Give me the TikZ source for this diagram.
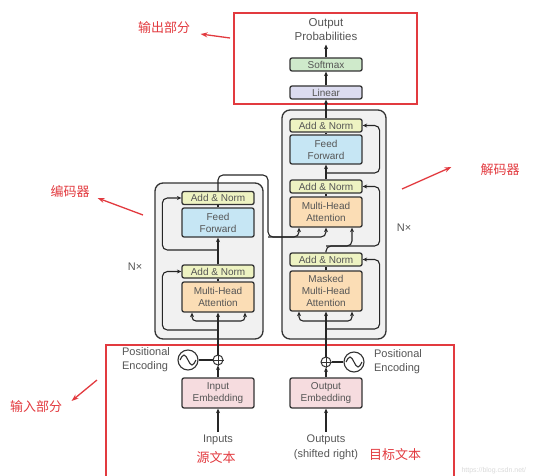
\documentclass[tikz,border=0pt]{standalone}
\usepackage{fontspec}
\setmainfont{Liberation Sans}
\newfontfamily\cjk{Noto Sans CJK SC}
\usetikzlibrary{arrows.meta}

\definecolor{normc}{HTML}{EEF3C2}
\definecolor{ffc}{HTML}{C6E6F4}
\definecolor{attc}{HTML}{FBDDB5}
\definecolor{embc}{HTML}{F6DCDF}
\definecolor{smc}{HTML}{CFEACB}
\definecolor{linc}{HTML}{DCDCF0}
\definecolor{blockc}{HTML}{F1F1F1}
\definecolor{redc}{HTML}{E23A3F}
\definecolor{txtc}{HTML}{555555}

\tikzset{
  layer/.style={draw=black!80, line width=1.3pt, rounded corners=2pt, minimum width=72pt,
    inner sep=0pt, align=center, text=txtc, font=\fontsize{10}{12}\selectfont},
  addnorm/.style={layer, fill=normc, minimum height=13pt},
  feedfw/.style={layer, fill=ffc, minimum height=29pt},
  attn/.style={layer, fill=attc, minimum height=30pt},
  embed/.style={layer, fill=embc, minimum height=30pt},
  block/.style={draw=black!80, fill=blockc, line width=1.3pt, rounded corners=8pt},
  flow/.style={-{Stealth[length=4.5pt,width=4pt]}, line width=1.1pt, black!85},
  wire/.style={line width=1.1pt, black!85},
  graytext/.style={text=txtc, font=\fontsize{11}{14}\selectfont, align=center},
  note/.style={text=redc, font=\cjk\fontsize{13}{15}\selectfont},
  pointer/.style={-{Stealth[length=7pt,width=5pt]}, redc, line width=1.3pt},
  redbox/.style={draw=redc, line width=1.1pt},
  plus/.style={circle, draw=black!80, line width=1pt, minimum size=10pt, inner sep=0pt},
  wave/.style={circle, draw=black!80, line width=1.1pt, minimum size=20pt, inner sep=0pt}
}

\begin{document}
\begin{tikzpicture}[x=1pt, y=-1pt]
  \useasboundingbox (0,0) rectangle (546,476);

  % red parts
  \node[redbox, minimum width=183pt, minimum height=91pt] (outpart) at (325.5,58.5) {};
  \draw[redbox] (106,476) |- (454,345) -- (454,476);

  % gray stacks
  \node[block, minimum width=108pt, minimum height=156pt] (enc) at (209,261) {};
  \node[block, minimum width=104pt, minimum height=229pt] (dec) at (334,224.5) {};

  % encoder
  \node[addnorm] (ean1) at (218,198) {Add \& Norm};
  \node[feedfw] (eff) at (218,222.5) {Feed\\Forward};
  \node[addnorm] (ean2) at (218,271.5) {Add \& Norm};
  \node[attn] (emha) at (218,297) {Multi-Head\\Attention};
  \node[embed] (ein) at (218,393) {Input\\Embedding};
  \node[plus] (eplus) at (218,360) {};
  \node[wave] (ewave) at (188,360) {};
  \node[graytext, align=left] (epos) at (146,360) {Positional\\Encoding};
  \node[graytext] (inputs) at (218,440) {Inputs};
  \node[graytext] (encn) at (135,267) {N×};

  % decoder
  \node[addnorm] (dan1) at (326,125.5) {Add \& Norm};
  \node[feedfw] (dff) at (326,149.5) {Feed\\Forward};
  \node[addnorm] (dan2) at (326,186.5) {Add \& Norm};
  \node[attn] (dmha) at (326,212) {Multi-Head\\Attention};
  \node[addnorm] (dan3) at (326,259.5) {Add \& Norm};
  \node[attn, minimum height=40pt] (dmmha) at (326,291) {Masked\\Multi-Head\\Attention};
  \node[embed] (dout) at (326,393) {Output\\Embedding};
  \node[plus] (dplus) at (326,362) {};
  \node[wave] (dwave) at (354,362) {};
  \node[graytext, align=left] (dpos) at (398,361.5) {Positional\\Encoding};
  \node[graytext, font=\fontsize{11}{14.5}\selectfont] (outputs) at (326,447.5) {Outputs\\(shifted right)};
  \node[graytext] (decn) at (404,228) {N×};

  % output part
  \node[layer, fill=linc, minimum height=13pt] (linear) at (326,92.5) {Linear};
  \node[layer, fill=smc, minimum height=13pt] (softmax) at (326,64.5) {Softmax};
  \node[graytext, font=\fontsize{11.5}{14}\selectfont] (prob) at (326,30) {Output\\Probabilities};

  % plus signs and waves
  \foreach \p in {eplus,dplus} {
    \draw[line width=0.9pt, black!80] (\p.north) -- (\p.south) (\p.west) -- (\p.east);
  }
  \foreach \w in {ewave,dwave} {
    \draw[line width=1.1pt, black!80] ([xshift=-8pt]\w.center) sin ++(4pt,5pt) cos ++(4pt,-5pt) sin ++(4pt,-5pt) cos ++(4pt,5pt);
  }
  \draw[wire] (ewave) -- (eplus);
  \draw[wire] (dwave) -- (dplus);

  % encoder flow
  \coordinate (eres) at (218,330);
  \coordinate (esplit) at (218,321);
  \coordinate (eres2) at (218,250);
  \draw[flow] (inputs) -- (ein);
  \draw[flow] (ein) -- (eplus);
  \draw[flow] (eplus) -- (emha);
  \draw[flow, rounded corners=4pt] (esplit) -| ([xshift=-26pt]emha.south);
  \draw[flow, rounded corners=4pt] (esplit) -| ([xshift=27pt]emha.south);
  \draw[flow, rounded corners=5pt] (eres) -| ([xshift=-19pt]ean2.west) -- (ean2.west);
  \draw[wire] (emha) -- (ean2);
  \draw[flow] (ean2) -- (eff);
  \draw[flow, rounded corners=5pt] (eres2) -| ([xshift=-19pt]ean1.west) -- (ean1.west);
  \draw[wire] (eff) -- (ean1);

  % encoder to decoder
  \coordinate (ecorner) at (268,175);
  \coordinate (kv) at (268,237);
  \draw[flow, rounded corners=5pt] (ean1.north) |- (ecorner) -- (kv) -| ([xshift=-27pt]dmha.south);
  \draw[flow, rounded corners=5pt] (kv) -| (dmha.south);

  % decoder flow
  \coordinate (dres) at (326,329);
  \coordinate (dsplit) at (326,321);
  \coordinate (dq) at (326,246);
  \coordinate (dres2) at (326,173);
  \draw[flow] (outputs) -- (dout);
  \draw[flow] (dout) -- (dplus);
  \draw[flow] (dplus) -- (dmmha);
  \draw[flow, rounded corners=4pt] (dsplit) -| ([xshift=-27pt]dmmha.south);
  \draw[flow, rounded corners=4pt] (dsplit) -| ([xshift=26pt]dmmha.south);
  \draw[flow, rounded corners=5pt] (dres) -| ([xshift=17pt]dan3.east) -- (dan3.east);
  \draw[wire] (dmmha) -- (dan3);
  \draw[flow, rounded corners=5pt] (dan3.north) -- (dq) -| ([xshift=17pt]dan2.east) -- (dan2.east);
  \draw[flow, rounded corners=5pt] (dq) -| ([xshift=26pt]dmha.south);
  \draw[wire] (dmha) -- (dan2);
  \draw[flow] (dan2) -- (dff);
  \draw[flow, rounded corners=5pt] (dres2) -| ([xshift=17pt]dan1.east) -- (dan1.east);
  \draw[wire] (dff) -- (dan1);
  \draw[flow] (dan1) -- (linear);
  \draw[flow] (linear) -- (softmax);
  \draw[flow] (softmax) -- (prob);

  % red notes
  \node[note] (outnote) at (164,28) {输出部分};
  \node[note] (encnote) at (70,192) {编码器};
  \node[note] (decnote) at (500,170) {解码器};
  \node[note] (innote) at (36,407) {输入部分};
  \node[note] (srcnote) at (216,458) {源文本};
  \node[note] (tgtnote) at (395,455) {目标文本};
  \coordinate (outtail) at (230,38);
  \coordinate (enctail) at (143,215);
  \coordinate (dectail) at (402,189);
  \coordinate (intail) at (97,380);
  \draw[pointer] (outtail) -- ([xshift=7pt,yshift=-6pt]outnote.east);
  \draw[pointer] (enctail) -- ([xshift=4.5pt,yshift=-6pt]encnote.east);
  \draw[pointer] (dectail) -- ([xshift=-25.5pt,yshift=3pt]decnote.west);
  \draw[pointer] (intail) -- ([xshift=6pt,yshift=6pt]innote.east);

  \node[anchor=west, text=black!15, font=\fontsize{7}{8}\selectfont] (mark) at (458,471) {https://blog.csdn.net/};
\end{tikzpicture}
\end{document}
